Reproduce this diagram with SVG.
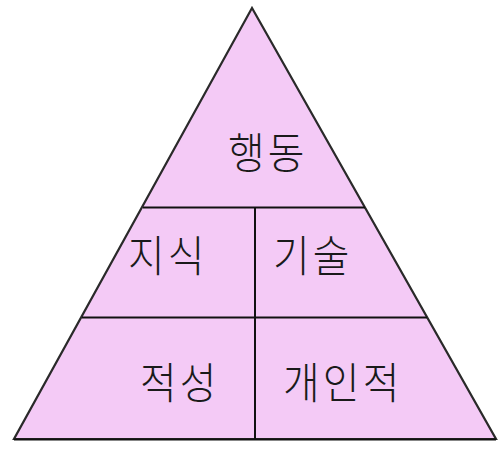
<svg xmlns="http://www.w3.org/2000/svg" width="501" height="449" viewBox="0 0 501 449">
<style>
.lbl{font-family:"Noto Sans CJK KR","Noto Sans CJK SC",sans-serif;font-size:38px;font-weight:300;letter-spacing:3px;fill:#1a1a1a}
.ln{stroke:#111;stroke-width:2;fill:none}
</style>
<rect width="501" height="449" fill="#fff"/>
<g id="pyramid">
<polygon points="252,8 14,439 496,439" fill="#F4CAF6" stroke="#2a2a2a" stroke-width="2.2" stroke-linejoin="miter"/>
</g>
<g id="connectors">
<line class="ln" x1="143" y1="207.5" x2="365" y2="207.5"/>
<line class="ln" x1="82" y1="317.5" x2="427" y2="317.5"/>
<line class="ln" x1="255" y1="208" x2="255" y2="440"/>
<line class="ln" x1="14" y1="439.5" x2="496" y2="439.5"/>
</g>
<g id="n1"><text class="lbl" transform="translate(228,169) scale(1.05,1.15)">행동</text></g>
<g id="n2"><text class="lbl" transform="translate(128,272) scale(1.05,1.15)">지식</text></g>
<g id="n3"><text class="lbl" transform="translate(273,272) scale(1.05,1.15)">기술</text></g>
<g id="n4"><text class="lbl" transform="translate(140,399) scale(1.05,1.15)">적성</text></g>
<g id="n5"><text class="lbl" transform="translate(283,399) scale(1.05,1.15)">개인적</text></g>
</svg>
